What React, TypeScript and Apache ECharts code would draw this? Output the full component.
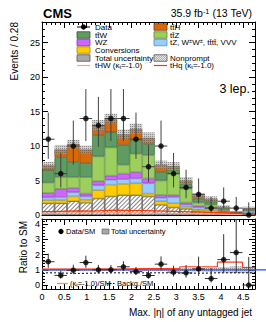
import React, { useEffect, useRef } from "react";
import * as echarts from "echarts";

const FONT = "'Liberation Sans', Arial, Helvetica, sans-serif";

// ---- binning ----
const binLow = [0.0, 0.28, 0.56, 0.84, 1.12, 1.4, 1.68, 1.96, 2.24, 2.52, 2.8, 3.08, 3.36, 3.64, 3.92, 4.2, 4.48];
const binWidth = 0.28;
const xMax = 4.76;
const categories = binLow.map((v) => v.toFixed(2));

// ---- observed data ----
const dataObs = [11, 6, 10, 14, 13, 14, 14, 11, 7, 10, 6, 4, 3, 1, 2, 1, 0];

// ---- stacked expectations (bottom -> top) ----
const nonprompt = [1.7, 1.7, 2.0, 1.8, 2.4, 2.7, 2.9, 2.9, 2.7, 1.5, 1.1, 0.9, 0.5, 0.4, 0.3, 0.1, 0.2];
const conversions = [0.45, 0.45, 0.7, 0.4, 1.2, 1.7, 1.6, 1.7, 0.4, 0.5, 0.6, 0.3, 0.25, 0.3, 0.1, 0.05, 0.1];
const rareBkg = [0.4, 0.45, 0.6, 0.5, 0.7, 0.7, 0.7, 0.7, 1.5, 0.5, 0.9, 0.3, 0.35, 0.3, 0.15, 0.07, 0.3];
const wz = [0.65, 1.2, 0.6, 0.4, 0.6, 0.6, 0.8, 0.9, 0.7, 0.4, 0.3, 0.3, 0.2, 0.1, 0.1, 0.05, 0.05];
const ttZ = [1.5, 1.7, 1.6, 2.4, 3.6, 4.1, 1.3, 2.7, 3.4, 2.1, 3.1, 2.0, 0.5, 0.4, 0.15, 0.06, 0.1];
const ttW = [1.8, 2.9, 2.2, 2.05, 3.1, 2.2, 2.9, 2.0, 1.6, 1.25, 0.6, 0.7, 0.6, 0.45, 0.2, 0.07, 0.15];
const ttH = [0.7, 1.1, 2.6, 1.95, 1.4, 2.0, 1.5, 1.6, 0.9, 1.05, 0.5, 0.5, 0.45, 0.4, 0.2, 0.07, 0.1];
const relUnc = [0.07, 0.07, 0.06, 0.06, 0.06, 0.05, 0.06, 0.06, 0.07, 0.08, 0.08, 0.1, 0.12, 0.15, 0.18, 0.22, 0.2];

// ---- signal lines (kappa_t = -1) ----
const tHq = [0.5, 0.55, 0.6, 0.55, 0.65, 0.7, 0.65, 0.65, 0.6, 0.55, 0.5, 0.45, 0.4, 0.35, 0.3, 0.2, 0.15];
const tHW = [0.25, 0.3, 0.3, 0.3, 0.3, 0.3, 0.3, 0.3, 0.25, 0.25, 0.2, 0.2, 0.15, 0.15, 0.1, 0.1, 0.05];

// ---- ratio panel lines ----
const kappaRatio = [1.05, 1.05, 1.05, 1.05, 1.06, 1.05, 1.06, 1.07, 1.08, 1.08, 1.09, 1.2, 1.2, 1.2, 1.5, 1.5, 1.15];
const bkgRatio = [0.8, 0.78, 0.76, 0.78, 0.8, 0.8, 0.8, 0.8, 0.8, 0.8, 0.78, 0.78, 0.78, 0.8, 0.8, 0.8, 0.8];

// ---- ticks ----
const xMajor = [0, 0.5, 1, 1.5, 2, 2.5, 3, 3.5, 4, 4.5];
const yMainMajor = [0, 5, 10, 15, 20, 25];
const yRatioMajor = [0, 1, 2, 3, 4];

function minorsOf(start: number, end: number, step: number, majorStep: number) {
  const out: number[] = [];
  for (let k = Math.round(start / step); k * step <= end + 1e-9; k++) {
    const v = +(k * step).toFixed(4);
    const r = v / majorStep;
    if (Math.abs(r - Math.round(r)) > 1e-6) out.push(v);
  }
  return out;
}
const xMinor = minorsOf(0.1, 4.7, 0.1, 0.5);
const yMainMinor = minorsOf(1, 27, 1, 5);
const yRatioMinor = minorsOf(0.2, 4.2, 0.2, 1);

const stepData = (v: number[]) =>
  binLow.map((x, i) => [x, v[i]]).concat([[xMax, v[v.length - 1]]]);

function poisson(n: number) {
  if (n === 0) return [0, 1.84];
  const s = Math.sqrt(n + 0.25);
  return [n - s + 0.5, n + s + 0.5];
}

const R_MIN = -0.26;
const R_MAX = 4.33;

export default function App() {
  const ref = useRef<HTMLDivElement>(null);
  useEffect(() => {
    if (!ref.current) return;
    const chart = echarts.init(ref.current, undefined, { renderer: "svg" });

    const N = dataObs.length;
    const total = Array.from({ length: N }, (_, i) =>
      nonprompt[i] + conversions[i] + rareBkg[i] + wz[i] + ttZ[i] + ttW[i] + ttH[i]
    );
    const unc = total.map((t, i) => t * relUnc[i]);
    const centers = binLow.map((x) => x + binWidth / 2);

    const mainPts = dataObs.map((n, i) => {
      const [lo, hi] = poisson(n);
      return [centers[i], n, lo, hi];
    });
    const ratioPts = dataObs.map((n, i) => {
      const [lo, hi] = poisson(n);
      return [centers[i], n / total[i], lo / total[i], hi / total[i]];
    });

    const tickBase = { inside: true, lineStyle: { color: "#000", width: 1 } };
    const labelStyle = { color: "#000", fontFamily: FONT, fontSize: 9 };

    const mkX = (grid: number, pos: string, major: boolean, labels: boolean) => ({
      type: "value",
      gridIndex: grid,
      position: pos,
      min: 0,
      max: xMax,
      axisLine: { show: major, onZero: false, lineStyle: { color: "#000", width: 1 } },
      axisTick: { ...tickBase, show: true, length: major ? 6 : 3, customValues: major ? xMajor : xMinor },
      axisLabel: labels
        ? { ...labelStyle, margin: 3, customValues: xMajor, showMinLabel: true, showMaxLabel: true }
        : { show: false },
      splitLine: { show: false },
    });
    const mkY = (grid: number, pos: string, min: number, max: number, majors: number[], minors: number[], major: boolean, labels: boolean) => ({
      type: "value",
      gridIndex: grid,
      position: pos,
      min,
      max,
      axisLine: { show: major, onZero: false, lineStyle: { color: "#000", width: 1 } },
      axisTick: { ...tickBase, show: true, length: major ? 6 : 3, customValues: major ? majors : minors },
      axisLabel: labels ? { ...labelStyle, margin: 2, customValues: majors } : { show: false },
      splitLine: { show: false },
    });

    const xAxis = [
      { type: "category", gridIndex: 0, data: categories, show: false, boundaryGap: true },
      mkX(0, "bottom", true, false),
      mkX(0, "bottom", false, false),
      mkX(0, "top", true, false),
      mkX(0, "top", false, false),
      { type: "category", gridIndex: 1, data: categories, show: false, boundaryGap: true },
      mkX(1, "bottom", true, true),
      mkX(1, "bottom", false, false),
      mkX(1, "top", true, false),
      mkX(1, "top", false, false),
    ];
    const yAxis = [
      mkY(0, "left", 0, 28, yMainMajor, yMainMinor, true, true),
      mkY(0, "left", 0, 28, yMainMajor, yMainMinor, false, false),
      mkY(0, "right", 0, 28, yMainMajor, yMainMinor, true, false),
      mkY(0, "right", 0, 28, yMainMajor, yMainMinor, false, false),
      mkY(1, "left", R_MIN, R_MAX, yRatioMajor, yRatioMinor, true, true),
      mkY(1, "left", R_MIN, R_MAX, yRatioMajor, yRatioMinor, false, false),
      mkY(1, "right", R_MIN, R_MAX, yRatioMajor, yRatioMinor, true, false),
      mkY(1, "right", R_MIN, R_MAX, yRatioMajor, yRatioMinor, false, false),
    ];

    const hatchDecal = {
      symbol: "rect",
      symbolSize: 1,
      color: "rgba(90,90,90,0.75)",
      dashArrayX: [1, 0],
      dashArrayY: [1, 2],
      rotation: -Math.PI / 4,
    };
    const uncDecal = {
      symbol: "rect",
      symbolSize: 1,
      color: "rgba(70,70,70,0.5)",
      dashArrayX: [1, 1],
      dashArrayY: [1, 1],
      rotation: 0,
    };

    const stackDefs = [
      { name: "Nonprompt", data: nonprompt, color: "#ffffff", border: "#666666", decal: hatchDecal },
      { name: "Conversions", data: conversions, color: "#ffcc00", border: "#a88400" },
      { name: "tZ, WW, tttt, VVV", data: rareBkg, color: "#99ccff", border: "#5a88b5" },
      { name: "WZ", data: wz, color: "#cc66ff", border: "#8636aa" },
      { name: "ttZ", data: ttZ, color: "#9ccf5e", border: "#5b8a30" },
      { name: "ttW", data: ttW, color: "#5f9c62", border: "#2d5a30" },
      { name: "ttH", data: ttH, color: "#d66a0a", border: "#7d3a05" },
    ];

    const barCommon = {
      type: "bar",
      xAxisIndex: 0,
      yAxisIndex: 0,
      barWidth: "100%",
      barCategoryGap: "0%",
      barGap: "-100%",
    };

    const series: any[] = stackDefs.map((s) => ({
      ...barCommon,
      name: s.name,
      stack: "sm",
      data: s.data,
      itemStyle: { color: s.color, borderColor: s.border, borderWidth: 0.6, decal: (s as any).decal },
    }));
    series.push({
      ...barCommon,
      name: "uncBase",
      stack: "unc",
      data: total.map((t, i) => t - unc[i]),
      itemStyle: { color: "rgba(0,0,0,0)" },
    });
    series.push({
      ...barCommon,
      name: "Total uncertainty",
      stack: "unc",
      data: unc.map((u) => 2 * u),
      itemStyle: { color: "rgba(160,160,160,0.5)", decal: uncDecal },
    });
    series.push({
      type: "line",
      name: "tHW",
      xAxisIndex: 1,
      yAxisIndex: 0,
      step: "end",
      symbol: "none",
      data: stepData(tHW),
      lineStyle: { color: "#ff9e80", width: 1.2 },
      z: 4,
    });
    series.push({
      type: "line",
      name: "tHq",
      xAxisIndex: 1,
      yAxisIndex: 0,
      step: "end",
      symbol: "none",
      data: stepData(tHq),
      lineStyle: { color: "#ff3300", width: 1.2 },
      z: 4,
    });

    const errRender = (color: string) => (params: any, api: any) => {
      const x = api.value(0), y = api.value(1), lo = api.value(2), hi = api.value(3);
      const pL = api.coord([x - binWidth / 2, y]);
      const pR = api.coord([x + binWidth / 2, y]);
      const pT = api.coord([x, hi]);
      const pB = api.coord([x, lo]);
      return {
        type: "group",
        children: [
          { type: "line", shape: { x1: pL[0], y1: pL[1], x2: pR[0], y2: pR[1] }, style: { stroke: color, lineWidth: 1 } },
          { type: "line", shape: { x1: pT[0], y1: pT[1], x2: pB[0], y2: pB[1] }, style: { stroke: color, lineWidth: 1 } },
        ],
      };
    };

    series.push({
      type: "custom",
      name: "dataErr",
      xAxisIndex: 1,
      yAxisIndex: 0,
      data: mainPts,
      clip: true,
      renderItem: errRender("#444"),
      z: 6,
    });
    series.push({
      type: "scatter",
      name: "Data",
      xAxisIndex: 1,
      yAxisIndex: 0,
      data: mainPts.map((p) => [p[0], p[1]]),
      symbol: "circle",
      symbolSize: 5.5,
      itemStyle: { color: "#000" },
      z: 7,
    });

    // ---- ratio panel ----
    const barRatio = { ...barCommon, xAxisIndex: 5, yAxisIndex: 4 };
    series.push({
      ...barRatio,
      name: "rUncBase",
      stack: "runc",
      data: relUnc.map((u) => 1 - u),
      itemStyle: { color: "rgba(0,0,0,0)" },
    });
    series.push({
      ...barRatio,
      name: "rUnc",
      stack: "runc",
      data: relUnc.map((u) => 2 * u),
      itemStyle: { color: "rgba(160,160,160,0.5)", decal: uncDecal },
    });
    series.push({
      type: "line",
      name: "kappaRatio",
      xAxisIndex: 6,
      yAxisIndex: 4,
      step: "end",
      symbol: "none",
      data: stepData(kappaRatio),
      lineStyle: { color: "#ff3b1f", width: 1.2 },
      z: 4,
    });
    series.push({
      type: "line",
      name: "bkgRatio",
      xAxisIndex: 6,
      yAxisIndex: 4,
      step: "end",
      symbol: "none",
      data: stepData(bkgRatio),
      lineStyle: { color: "#000", width: 1, type: [2, 2] },
      z: 4,
    });
    series.push({
      type: "custom",
      name: "ratioErr",
      xAxisIndex: 6,
      yAxisIndex: 4,
      data: ratioPts,
      clip: true,
      renderItem: errRender("#333"),
      z: 6,
    });
    series.push({
      type: "scatter",
      name: "Data/SM",
      xAxisIndex: 6,
      yAxisIndex: 4,
      data: ratioPts.map((p) => [p[0], p[1]]),
      symbol: "circle",
      symbolSize: 5.5,
      itemStyle: { color: "#000" },
      z: 7,
    });

    // ---- graphics (texts & legends) ----
    const T = (x: number, y: number, text: string, size: number, extra: any = {}) => ({
      type: "text",
      x,
      y,
      z: 100,
      style: {
        text,
        fill: "#000",
        fontFamily: FONT,
        fontSize: size,
        align: extra.align || "left",
        textAlign: extra.align || "left",
        verticalAlign: "middle",
        textVerticalAlign: "middle",
        fontWeight: extra.weight || "normal",
        rich: extra.rich,
      },
      rotation: extra.rotation || 0,
    });
    const richSmall = (size: number) => ({
      n: { fontFamily: FONT, fontSize: size, fill: "#000" },
      sup: { fontFamily: FONT, fontSize: size * 0.7, fill: "#000", verticalAlign: "top", padding: [0, 0, 3, 0] },
      sub: { fontFamily: FONT, fontSize: size * 0.7, fill: "#000", verticalAlign: "bottom", padding: [3, 0, 0, 0] },
    });
    const box = (x: number, y: number, fill: string, stroke: string) => ({
      type: "rect",
      z: 100,
      shape: { x, y, width: 13, height: 6.5 },
      style: { fill, stroke, lineWidth: 0.8 },
    });
    const hatchLines = (x0: number, y0: number, w: number, h: number, step: number) => {
      const out: any[] = [];
      for (let k = -h; k < w; k += step) {
        let xs = x0 + k, ys = y0;
        let xe = x0 + k + h, ye = y0 + h;
        if (xs < x0) { ys = y0 + (x0 - xs); xs = x0; }
        if (xe > x0 + w) { ye = y0 + h - (xe - (x0 + w)); xe = x0 + w; }
        if (xe > xs) out.push({ type: "line", z: 101, shape: { x1: xs, y1: ys, x2: xe, y2: ye }, style: { stroke: "#555", lineWidth: 0.6 } });
      }
      return out;
    };
    const hline = (x1: number, x2: number, y: number, color: string, width = 1.2, dash?: number[]) => ({
      type: "line",
      z: 100,
      shape: { x1, y1: y, x2, y2: y },
      style: { stroke: color, lineWidth: width, lineDash: dash },
    });

    const LX = 77, LT = 95, RX = 154, RT = 170;
    const rows = [27, 35, 42.5, 50, 58, 65.5];
    const LS = 8;
    const rs = richSmall(LS);

    const graphics: any[] = [
      T(43, 13.5, "CMS", 13, { weight: "bold" }),
      T(252, 13, "{n|35.9 fb}{sup|-1}{n| (13 TeV)}", 10.5, { align: "right", rich: richSmall(10.5) }),
      T(250, 89, "3 lep.", 12.5, { align: "right" }),
      T(14, 22, "Events / 0.28", 10, { align: "right", rotation: Math.PI / 2 }),
      T(23, 221, "Ratio to SM", 10, { align: "right", rotation: Math.PI / 2 }),
      T(252, 312, "Max. |η| of any untagged jet", 10, { align: "right" }),

      // left legend column
      hline(LX, LX + 13, rows[0], "#000", 1),
      { type: "circle", z: 101, shape: { cx: LX + 6.5, cy: rows[0], r: 2.6 }, style: { fill: "#000" } },
      T(LT, rows[0], "Data", LS),
      box(LX, rows[1] - 3.25, "#5f9c62", "#2d5a30"),
      T(LT, rows[1], "tt\u0304W", LS),
      box(LX, rows[2] - 3.25, "#cc66ff", "#8636aa"),
      T(LT, rows[2], "WZ", LS),
      box(LX, rows[3] - 3.25, "#ffcc00", "#a88400"),
      T(LT, rows[3], "Conversions", LS),
      box(LX, rows[4] - 3.25, "#a8a8a8", "#555"),
      T(LT, rows[4], "Total uncertainty", LS),
      hline(LX, LX + 13, rows[5], "#ff9e80", 1.2),
      T(LT, rows[5], "{n|tHW (κ}{sub|t}{n|=-1.0)}", LS, { rich: rs }),

      // right legend column
      box(RX, rows[0] - 3.25, "#d66a0a", "#7d3a05"),
      T(RT, rows[0], "tt\u0304H", LS),
      box(RX, rows[1] - 3.25, "#9ccf5e", "#5b8a30"),
      T(RT, rows[1], "tt\u0304Z", LS),
      box(RX, rows[2] - 3.25, "#99ccff", "#5a88b5"),
      T(RT, rows[2], "{n|tZ, W}{sup|±}{n|W}{sup|±}{n|, tt\u0304tt\u0304, VVV}", LS, { rich: rs }),
      box(RX, rows[4] - 3.25, "#ffffff", "#555"),
      ...hatchLines(RX, rows[4] - 3.25, 13, 6.5, 2),
      T(RT, rows[4], "Nonprompt", LS),
      hline(RX, RX + 13, rows[5], "#ff3300", 1.2),
      T(RT, rows[5], "{n|tHq (κ}{sub|t}{n|=-1.0)}", LS, { rich: rs }),

      // ratio legend
      { type: "circle", z: 101, shape: { cx: 61, cy: 231.5, r: 2.6 }, style: { fill: "#000" } },
      T(66, 231.5, "Data/SM", 7.5),
      { type: "rect", z: 100, shape: { x: 102, y: 229, width: 7, height: 5 }, style: { fill: "#a8a8a8", stroke: "#555", lineWidth: 0.6 } },
      T(111, 231.5, "Total uncertainty", 7.5),
      hline(57, 68, 283.5, "#ff8a70", 1.3),
      T(70, 283.5, "{n|(κ}{sub|t}{n|=-1.0)/SM}", 7.5, { rich: richSmall(7.5) }),
      hline(107, 115, 283.5, "#000", 1, [1.5, 1.5]),
      T(117, 283.5, "Backg./SM", 7.5),
    ];

    const option: any = {
      animation: false,
      grid: [
        { left: 42, top: 22, width: 213, height: 193 },
        { left: 42, top: 219, width: 213, height: 70 },
      ],
      xAxis,
      yAxis,
      series,
      graphic: { elements: graphics },
    };
    chart.setOption(option);

    // blue reference line at ratio = 1, running past the right frame
    const yOne = chart.convertToPixel({ yAxisIndex: 4 } as any, 1) as number;
    const xLeft = chart.convertToPixel({ xAxisIndex: 6 } as any, 0) as number;
    chart.setOption({
      graphic: {
        elements: [
          ...graphics,
          {
            type: "line",
            z: 5,
            shape: { x1: xLeft, y1: yOne, x2: 266, y2: yOne },
            style: { stroke: "#1f4fff", lineWidth: 1.3 },
          },
        ],
      },
    });

    return () => chart.dispose();
  }, []);
  return <div ref={ref} style={{ position: "absolute", left: 0, top: 0, width: 266, height: 322 }} />;
}
